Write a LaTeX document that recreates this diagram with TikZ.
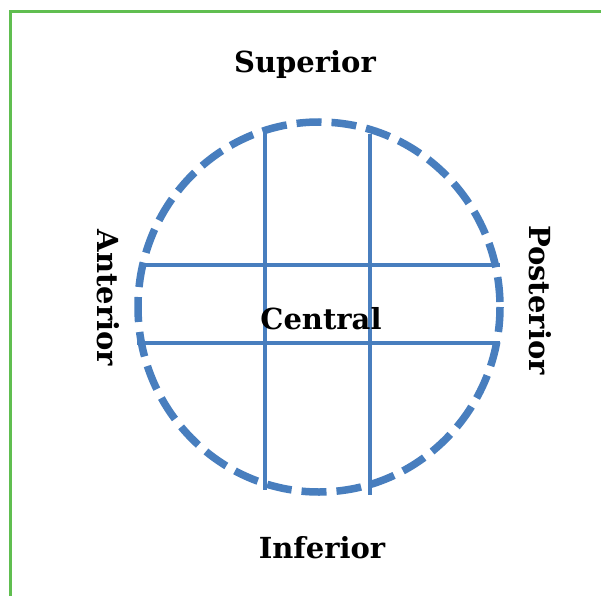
\documentclass[tikz,border=0pt]{standalone}
\usepackage{fontspec}
\setmainfont{DejaVu Serif}
\begin{document}
\begin{tikzpicture}[x=1pt,y=-1pt,
  lab/.style={font=\bfseries\fontsize{29}{33}\selectfont, text=black, inner sep=0pt},
  gridline/.style={draw=axisblue, line width=4.5pt},
  rim/.style={draw=axisblue, line width=7.5pt, dash pattern=on 25pt off 10pt}]
\definecolor{axisblue}{RGB}{72,126,190}
\definecolor{framegreen}{RGB}{96,190,80}
\useasboundingbox[fill=white] (0,0) rectangle (601,596);
\draw[framegreen, line width=3pt] (10,596) -- (10,12) -- (601,12);
% grid
\coordinate (v1t) at (265,128); \coordinate (v1b) at (265,490);
\coordinate (v2t) at (370,134); \coordinate (v2b) at (370,495);
\coordinate (h1l) at (140,265); \coordinate (h1r) at (500,265);
\coordinate (h2l) at (137,343); \coordinate (h2r) at (500,343);
\draw[gridline] (v1t) -- (v1b);
\draw[gridline] (v2t) -- (v2b);
\draw[gridline] (h1l) -- (h1r);
\draw[gridline] (h2l) -- (h2r);
% rim
\draw[rim] (319,307) ellipse [x radius=181, y radius=185];
% labels
\node[lab] (sup) at (305,65) {Superior};
\node[lab] (inf) at (322,548) {Inferior};
\node[lab] (cen) at (321,319) {Central};
\node[lab, rotate=-90] (ant) at (108,298) {Anterior};
\node[lab, rotate=-90] (pos) at (540,300) {Posterior};
\end{tikzpicture}
\end{document}
